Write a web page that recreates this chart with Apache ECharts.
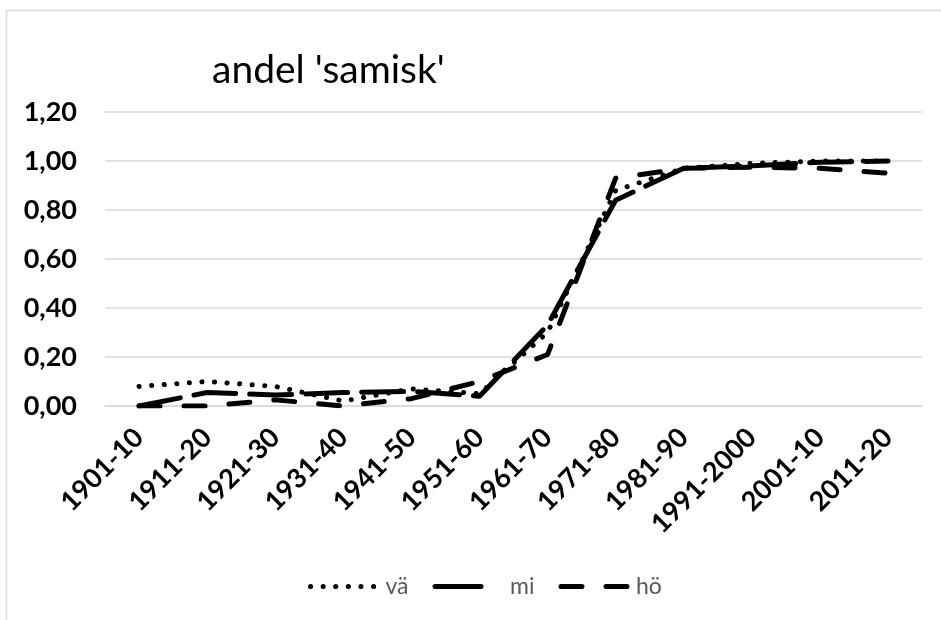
<!DOCTYPE html>
<html>
<head>
<meta charset="utf-8">
<script src="https://cdn.jsdelivr.net/npm/echarts@6/dist/echarts.min.js"></script>
<style>
html,body{margin:0;padding:0;background:#fff;}
#c{width:941px;height:620px;}
</style>
</head>
<body>
<div id="c"></div>
<script>
var categories = ['1901-10','1911-20','1921-30','1931-40','1941-50','1951-60','1961-70','1971-80','1981-90','1991-2000','2001-10','2011-20'];
var seriesNames = ['vä','mi','hö'];
var vaValues = [0.08, 0.10, 0.08, 0.02, 0.07, 0.05, 0.30, 0.88, 0.97, 0.99, 1.00, 1.00];
var miValues = [0.00, 0.055, 0.045, 0.055, 0.06, 0.04, 0.33, 0.84, 0.97, 0.98, 0.995, 1.00];
var hoValues = [0.00, 0.00, 0.025, 0.00, 0.03, 0.10, 0.21, 0.93, 0.97, 0.975, 0.97, 0.95];
var yTicks = [0, 0.2, 0.4, 0.6, 0.8, 1.0, 1.2];

var font = 'Lato, "Open Sans", sans-serif';
var chart = echarts.init(document.getElementById('c'), null, {renderer: 'canvas'});

var dashes = {'vä': [0.1, 12.5], 'mi': [42, 14], 'hö': [21, 24]};

function lineSeries(name, data) {
  return {
    name: name,
    type: 'line',
    data: data,
    symbol: 'none',
    smooth: false,
    lineStyle: {color: '#000', width: 5, type: dashes[name], cap: 'round', join: 'round'},
    itemStyle: {color: '#000'}
  };
}

chart.setOption({
  animation: false,
  backgroundColor: '#fff',
  graphic: [{
    type: 'rect', left: 4, top: 8, silent: true,
    shape: {x: 0, y: 0, width: 960, height: 640},
    style: {fill: 'none', stroke: '#d9d9d9', lineWidth: 1.5}
  }],
  title: {
    text: "andel 'samisk'",
    left: 207, top: 46,
    textStyle: {fontFamily: font, fontSize: 39, fontWeight: 'normal', color: '#000'}
  },
  legend: {
    data: [
      {name: seriesNames[0]},
      {name: seriesNames[1], lineStyle: {type: [46, 40]}},
      {name: seriesNames[2]}
    ],
    left: 303, top: 570,
    itemWidth: 70, itemHeight: 22, itemGap: 24,
    itemStyle: {opacity: 0},
    lineStyle: {width: 5, cap: 'round'},
    textStyle: {fontFamily: font, fontSize: 23, color: '#595959'}
  },
  grid: {left: 105, right: 19, top: 112, bottom: 214, containLabel: false},
  xAxis: {
    type: 'category',
    data: categories,
    boundaryGap: true,
    axisLine: {lineStyle: {color: '#d9d9d9', width: 1.5}},
    axisTick: {show: false},
    axisLabel: {rotate: 45, margin: 27, interval: 0, fontFamily: font, fontSize: 27, fontWeight: 'bold', color: '#000'}
  },
  yAxis: {
    type: 'value',
    min: yTicks[0], max: yTicks[yTicks.length - 1], interval: 0.2,
    axisLine: {show: false},
    axisTick: {show: false},
    splitLine: {lineStyle: {color: '#d9d9d9', width: 1.5}},
    axisLabel: {
      margin: 28, fontFamily: font, fontSize: 27, fontWeight: 'bold', color: '#000',
      formatter: function (v) { return v.toFixed(2).replace('.', ','); }
    }
  },
  series: [
    lineSeries(seriesNames[0], vaValues),
    lineSeries(seriesNames[1], miValues),
    lineSeries(seriesNames[2], hoValues)
  ]
});
</script>
</body>
</html>
